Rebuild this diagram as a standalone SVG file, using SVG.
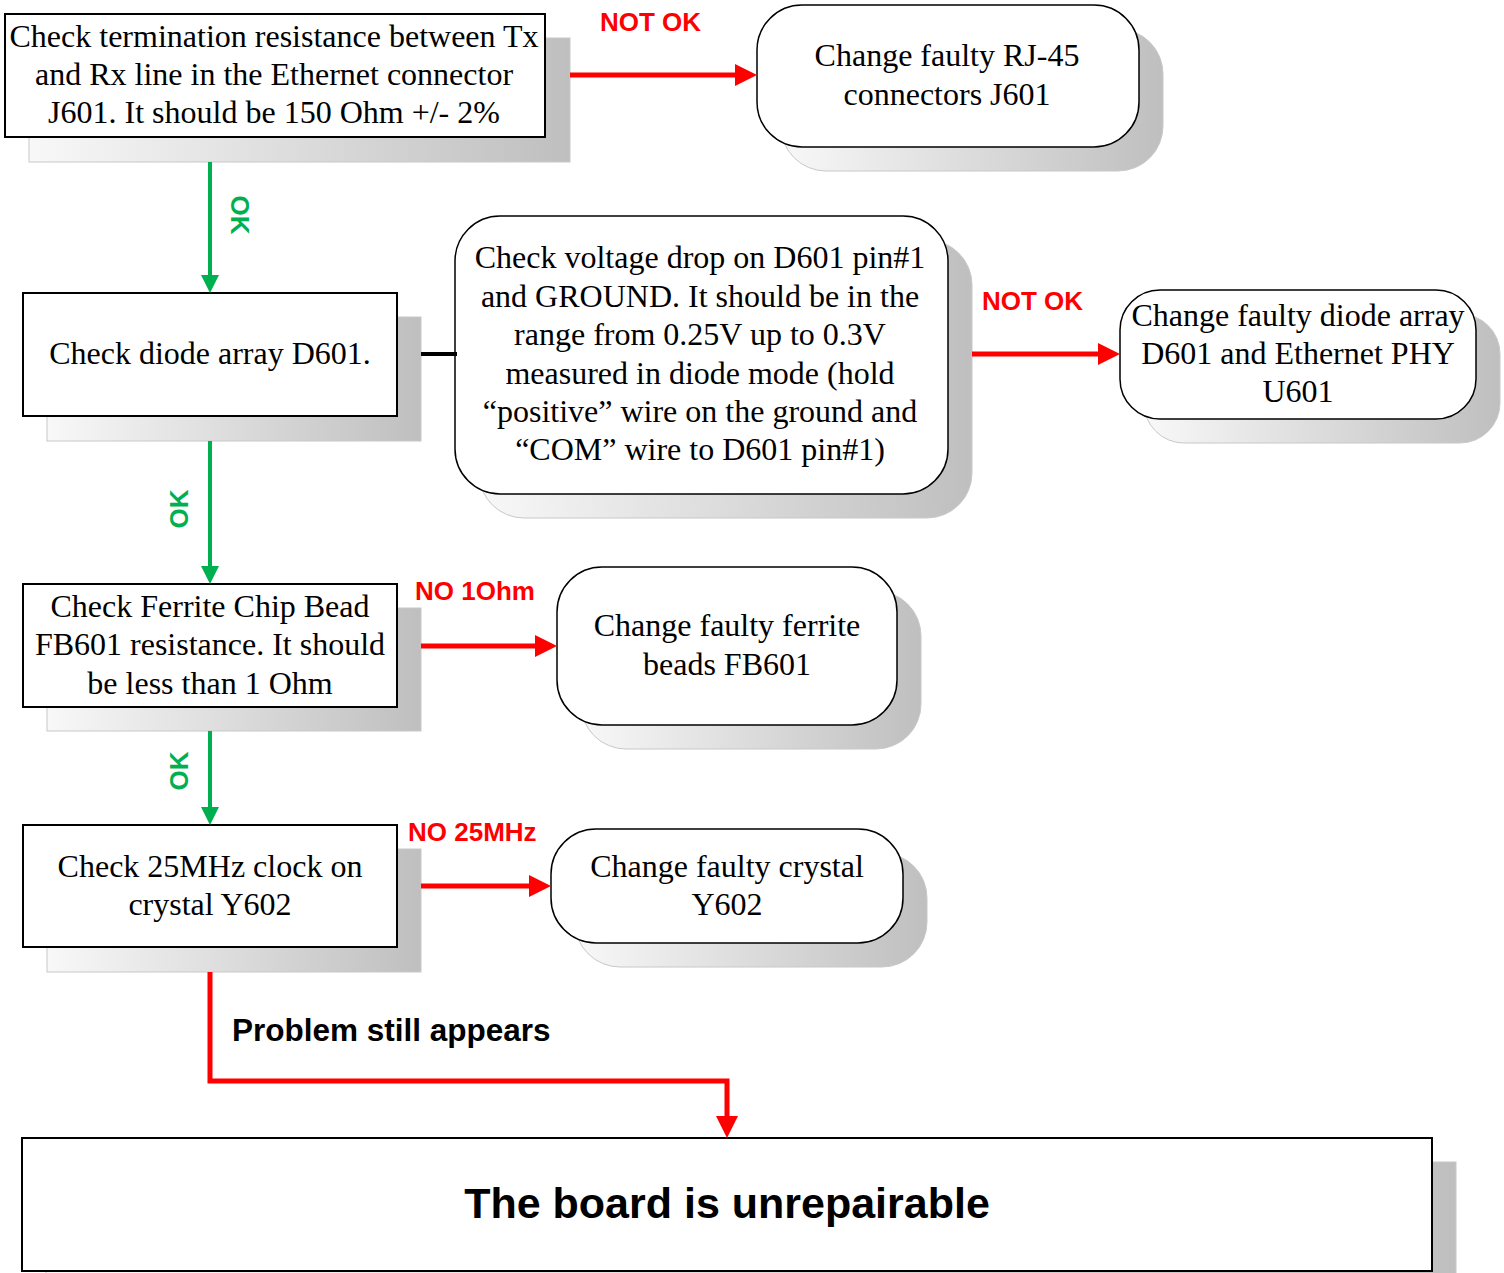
<svg xmlns="http://www.w3.org/2000/svg" width="1504" height="1273" viewBox="0 0 1504 1273">
<defs>
<linearGradient id="shg" x1="0" y1="0" x2="1" y2="0">
<stop offset="0" stop-color="#f8f8f8"/>
<stop offset="1" stop-color="#bfbfbf"/>
</linearGradient>
<marker id="ahRed" markerUnits="userSpaceOnUse" markerWidth="22" markerHeight="22" viewBox="0 0 22 22" refX="0" refY="11" orient="auto">
<path d="M0,0 L22,11 L0,22 z" fill="#ff0000"/>
</marker>
<marker id="ahGreen" markerUnits="userSpaceOnUse" markerWidth="18" markerHeight="18" viewBox="0 0 18 18" refX="0" refY="9" orient="auto">
<path d="M0,0 L18,9 L0,18 z" fill="#00b050"/>
</marker>
</defs>
<style>
.shadow{fill:url(#shg);stroke:#c8c8c8;stroke-width:1}
.box{fill:#ffffff;stroke:#000000;stroke-width:2}
.rbox{fill:#ffffff;stroke:#000000;stroke-width:1.5}
.t{font-family:"Liberation Serif","Times New Roman",serif;font-size:32px;fill:#000000;text-anchor:middle}
.lbl{font-family:"Liberation Sans",Arial,sans-serif;font-weight:bold;font-size:26px}
.red{fill:#ff0000}
.green{fill:#00b050}
.redline{stroke:#ff0000;stroke-width:5;fill:none}
.greenline{stroke:#00b050;stroke-width:4;fill:none}
</style>
<rect width="1504" height="1273" fill="#ffffff"/>

<g id="n1">
<rect class="shadow" x="29" y="38" width="541" height="124"/>
<rect class="box" x="5" y="14" width="540" height="123"/>
<text class="t" x="274" y="47">Check termination resistance between Tx</text>
<text class="t" x="274" y="85">and Rx line in the Ethernet connector</text>
<text class="t" x="274" y="123">J601. It should be 150 Ohm +/- 2%</text>
</g>

<g id="n2">
<rect class="shadow" x="781" y="29" width="382" height="142" rx="45" ry="45"/>
<rect class="rbox" x="757" y="5" width="382" height="142" rx="45" ry="45"/>
<text class="t" x="947" y="66">Change faulty RJ-45</text>
<text class="t" x="947" y="105">connectors J601</text>
</g>

<g id="n3">
<rect class="shadow" x="47" y="317" width="374" height="124"/>
<rect class="box" x="23" y="293" width="374" height="123"/>
<text class="t" x="210" y="364">Check diode array D601.</text>
</g>

<g id="n4">
<rect class="shadow" x="479" y="240" width="493" height="278" rx="45" ry="45"/>
<rect class="rbox" x="455" y="216" width="493" height="278" rx="45" ry="45"/>
<text class="t" x="700" y="268">Check voltage drop on D601 pin#1</text>
<text class="t" x="700" y="307">and GROUND. It should be in the</text>
<text class="t" x="700" y="345">range from 0.25V up to 0.3V</text>
<text class="t" x="700" y="384">measured in diode mode (hold</text>
<text class="t" x="700" y="422">“positive” wire on the ground and</text>
<text class="t" x="700" y="460">“COM” wire to D601 pin#1)</text>
</g>

<g id="n5">
<rect class="shadow" x="1144" y="314" width="356" height="129" rx="40" ry="40"/>
<rect class="rbox" x="1120" y="290" width="356" height="129" rx="40" ry="40"/>
<text class="t" x="1298" y="326">Change faulty diode array</text>
<text class="t" x="1298" y="364">D601 and Ethernet PHY</text>
<text class="t" x="1298" y="402">U601</text>
</g>

<g id="n6">
<rect class="shadow" x="47" y="608" width="374" height="123"/>
<rect class="box" x="23" y="584" width="374" height="123"/>
<text class="t" x="210" y="617">Check Ferrite Chip Bead</text>
<text class="t" x="210" y="655">FB601 resistance. It should</text>
<text class="t" x="210" y="694">be less than 1 Ohm</text>
</g>

<g id="n7">
<rect class="shadow" x="581" y="591" width="340" height="158" rx="45" ry="45"/>
<rect class="rbox" x="557" y="567" width="340" height="158" rx="45" ry="45"/>
<text class="t" x="727" y="636">Change faulty ferrite</text>
<text class="t" x="727" y="675">beads FB601</text>
</g>

<g id="n8">
<rect class="shadow" x="47" y="849" width="374" height="123"/>
<rect class="box" x="23" y="825" width="374" height="122"/>
<text class="t" x="210" y="877">Check 25MHz clock on</text>
<text class="t" x="210" y="915">crystal Y602</text>
</g>

<g id="n9">
<rect class="shadow" x="575" y="853" width="352" height="114" rx="45" ry="45"/>
<rect class="rbox" x="551" y="829" width="352" height="114" rx="45" ry="45"/>
<text class="t" x="727" y="877">Change faulty crystal</text>
<text class="t" x="727" y="915">Y602</text>
</g>

<g id="n10">
<rect class="shadow" x="46" y="1162" width="1410" height="140"/>
<rect class="box" x="22" y="1138" width="1410" height="133" stroke-width="2.5"/>
<text x="727" y="1218" text-anchor="middle" font-family="'Liberation Sans', Arial, sans-serif" font-weight="bold" font-size="43" fill="#000000">The board is unrepairable</text>
</g>

<g id="connectors">
<line class="redline" x1="570" y1="75" x2="735" y2="75" marker-end="url(#ahRed)"/>
<text class="lbl red" x="600" y="31">NOT OK</text>

<line class="greenline" x1="210" y1="162" x2="210" y2="275" marker-end="url(#ahGreen)"/>
<text class="lbl green" transform="translate(231,215) rotate(90)" text-anchor="middle">OK</text>

<line x1="421" y1="354" x2="457" y2="354" stroke="#000000" stroke-width="4"/>

<line class="redline" x1="972" y1="354" x2="1098" y2="354" marker-end="url(#ahRed)"/>
<text class="lbl red" x="982" y="310">NOT OK</text>

<line class="greenline" x1="210" y1="441" x2="210" y2="566" marker-end="url(#ahGreen)"/>
<text class="lbl green" transform="translate(188,509) rotate(-90)" text-anchor="middle">OK</text>

<line class="redline" x1="421" y1="646" x2="535" y2="646" marker-end="url(#ahRed)"/>
<text class="lbl red" x="415" y="600">NO 1Ohm</text>

<line class="greenline" x1="210" y1="731" x2="210" y2="807" marker-end="url(#ahGreen)"/>
<text class="lbl green" transform="translate(188,771) rotate(-90)" text-anchor="middle">OK</text>

<line class="redline" x1="421" y1="886" x2="529" y2="886" marker-end="url(#ahRed)"/>
<text class="lbl red" x="408" y="841">NO 25MHz</text>

<path class="redline" d="M210,972 V1081 H727 V1116" marker-end="url(#ahRed)"/>
<text x="232" y="1041" font-family="'Liberation Sans', Arial, sans-serif" font-weight="bold" font-size="31.5" fill="#000000">Problem still appears</text>
</g>
</svg>
